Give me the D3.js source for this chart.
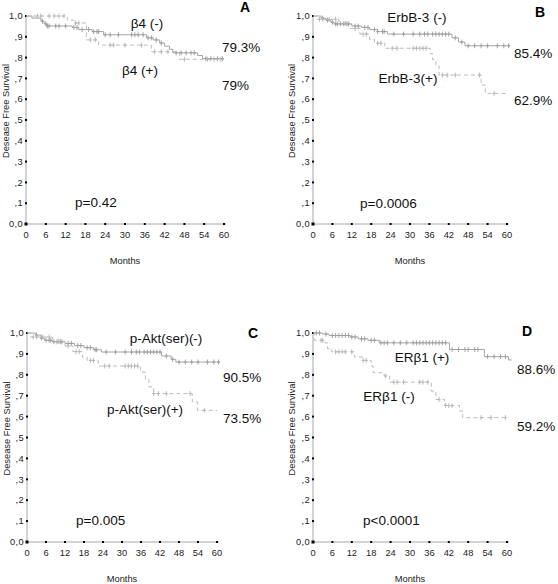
<!DOCTYPE html>
<html><head><meta charset="utf-8">
<script src="https://cdn.jsdelivr.net/npm/d3@7"></script>
<style>
body{margin:0;background:#fff;}
svg{display:block;font-family:"Liberation Sans",Arial,sans-serif;}
</style></head>
<body>
<svg id="c" width="558" height="584"></svg>
<script>
// ---- data ----
const monthTicks = [0,6,12,18,24,30,36,42,48,54,60];
const survTicks = [0,0.1,0.2,0.3,0.4,0.5,0.6,0.7,0.8,0.9,1.0];
const survTickLabels = ["0,0",",1",",2",",3",",4",",5",",6",",7",",8",",9","1,0"];

// Panel A
const aNegSteps = [[1.8,.99],[4.5,.975],[5.5,.962],[6.2,.952],[14,.945],[16,.935],[20,.925],[23.5,.91],[36.5,.895],[38.5,.885],[40.5,.87],[42,.855],[43.5,.84],[44.5,.823],[52,.81],[53.5,.795]];
const aNegCens = [5,6,6.5,7,9,10,12,14.5,15.5,17,19,20.5,21.5,22,24,25.5,28,32,33,34,35.5,37,38,39.5,41,45.5,47,48.5,50,51,54.5,56,58,59.5];
const aNegEnd = 60;
const aPosSteps = [[12.5,.98],[14.5,.966],[18.3,.885],[22,.86],[38,.828],[46.5,.792]];
const aPosCens = [3.5,4.5,7,8.5,10,11.5,15,16,19.5,21,25.5,26.5,30,35,39,41,43,48,55,57,59];
const aPosEnd = 60;

// Panel B
const bNegSteps = [[2.5,.99],[4,.98],[5.5,.97],[6.5,.962],[12,.952],[15,.945],[17.5,.935],[20,.925],[23,.913],[43,.895],[45,.875],[47,.857]];
const bNegCens = [3,4.5,6,7,7.5,8.5,9.5,10.5,11,13,14,16,17,19,20,21.5,22,25,28,31,33,34.5,35.5,37,38,39,40,41,42,44,46,48,50,52,54,57,59,60.5];
const bNegEnd = 61;
const bPosSteps = [[1,.984],[8,.965],[11.5,.94],[14.5,.913],[17.5,.888],[19,.869],[22.2,.845],[36.2,.82],[37,.79],[38,.76],[39,.716],[52,.668],[53.3,.628]];
const bPosCens = [2,3,5,7,10,13,15.5,16.5,20,21,24.5,26,31,32,33,34,35,40,41.5,44,51.5,56];
const bPosEnd = 60;

// Panel C
const cNegSteps = [[2.6,.99],[4.5,.975],[5.5,.965],[8,.958],[12,.95],[15,.94],[18,.93],[21,.92],[23.5,.909],[42.5,.89],[45.5,.874],[47,.861]];
const cNegCens = [3,4.5,6,7,7.5,8.5,9.5,10.5,11,13,14,16,17,19,20,21.5,22,25,28,31,33,34.5,35.5,37,38,39,40,41,42,44,46,48,50,52,54,57,59,60.5];
const cNegEnd = 61;
const cPosSteps = [[1,.981],[8,.96],[12,.938],[14.5,.911],[17.5,.885],[19,.869],[22.5,.842],[35.8,.813],[37.4,.778],[38.5,.742],[40,.71],[52.2,.671],[53.8,.63]];
const cPosCens = [2,3,5,7,10,13,15.5,16.5,20,21,24.5,26,31,32,33,34,35,40,41.5,44,51.5,56];
const cPosEnd = 60;

// Panel D
const dPosSteps = [[3,.995],[5,.988],[11.5,.981],[14,.972],[17,.965],[20.5,.953],[42.2,.921],[53,.887],[60.5,.871]];
const dPosCens = [1,2,4,6,7,8,9,10,11,12,13,15,16,18,19,21,22,23,25,27,29,31,32,33,34,35,36,37,38,39,40,41,43,45,47,48,50,51,54,56,58,59.5];
const dPosEnd = 61.5;
const dNegSteps = [[0.5,.965],[3.5,.953],[4.5,.925],[5.8,.91],[12.8,.885],[15.4,.869],[18,.842],[18.6,.81],[22,.794],[23.7,.765],[36.6,.722],[38,.682],[40.7,.653],[45.3,.627],[46.3,.595]];
const dNegCens = [2.5,3,7,8,9,10,12,15.5,16.5,22.5,25,26,28,33,34,35.5,39,41,42,43,52,55,59.5];
const dNegEnd = 60.5;

const panelLetters = ["A","B","C","D"];
const pValues = ["p=0.42","p=0.0006","p=0.005","p<0.0001"];

// ---- layout ----
const panels = [
  {letter:panelLetters[0], p:pValues[0], x0:26, x1:224, yT:16, yB:224, ylabX:6,
   curves:[{steps:aNegSteps,cens:aNegCens,end:aNegEnd,dash:false},{steps:aPosSteps,cens:aPosCens,end:aPosEnd,dash:true}],
   texts:[["β4 (-)",147,28,"middle"],["β4 (+)",140,75,"middle"],["79.3%",222,52,"start"],["79%",222,90,"start"]],
   letterPos:[245,12], pPos:[75,207]},
  {letter:panelLetters[1], p:pValues[1], x0:313, x1:507, yT:16, yB:224, ylabX:292,
   curves:[{steps:bNegSteps,cens:bNegCens,end:bNegEnd,dash:false},{steps:bPosSteps,cens:bPosCens,end:bPosEnd,dash:true}],
   texts:[["ErbB-3 (-)",417,22,"middle"],["ErbB-3(+)",408,83,"middle"],["85.4%",514,58,"start"],["62.9%",514,105,"start"]],
   letterPos:[540,17], pPos:[360,208]},
  {letter:panelLetters[2], p:pValues[2], x0:27, x1:217, yT:333, yB:542, ylabX:7,
   curves:[{steps:cNegSteps,cens:cNegCens,end:cNegEnd,dash:false},{steps:cPosSteps,cens:cPosCens,end:cPosEnd,dash:true}],
   texts:[["p-Akt(ser)(-)",166,343,"middle"],["p-Akt(ser)(+)",145,414,"middle"],["90.5%",223,382,"start"],["73.5%",223,423,"start"]],
   letterPos:[253,338], pPos:[76,525]},
  {letter:panelLetters[3], p:pValues[3], x0:313, x1:507, yT:333, yB:542, ylabX:292,
   curves:[{steps:dPosSteps,cens:dPosCens,end:dPosEnd,dash:false},{steps:dNegSteps,cens:dNegCens,end:dNegEnd,dash:true}],
   texts:[["ERβ1 (+)",422,362,"middle"],["ERβ1 (-)",389,401,"middle"],["88.6%",517,374,"start"],["59.2%",517,431,"start"]],
   letterPos:[527,336], pPos:[363,525]}
];

const svg = d3.select("#c");

function survAt(steps,t){let s=1;for(const st of steps){if(st[0]<=t) s=st[1];}return s;}

panels.forEach(P=>{
  const x = d3.scaleLinear().domain([0,60]).range([P.x0,P.x1]);
  const y = d3.scaleLinear().domain([0,1]).range([P.yB,P.yT]);
  const g = svg.append("g");

  // axes lines
  g.append("line").attr("x1",x(0)).attr("x2",x(60)+2).attr("y1",y(0)).attr("y2",y(0)).attr("stroke","#a8a8a8").attr("stroke-width",1);
  g.append("line").attr("x1",x(0)).attr("x2",x(0)).attr("y1",y(0)).attr("y2",y(1)).attr("stroke","#a8a8a8").attr("stroke-width",1);

  // ticks
  monthTicks.forEach(m=>{
    g.append("rect").attr("x",x(m)-1).attr("y",y(0)-1).attr("width",2).attr("height",2).attr("fill","#000");
    g.append("text").attr("x",x(m)).attr("y",y(0)+14).attr("text-anchor","middle").attr("font-size",9.3).attr("fill","#222").text(m);
  });
  survTicks.forEach((v,i)=>{
    g.append("rect").attr("x",x(0)-1).attr("y",y(v)-1).attr("width",2).attr("height",2).attr("fill","#000");
    g.append("text").attr("x",x(0)-3).attr("y",y(v)).attr("dy","0.35em").attr("text-anchor","end").attr("font-size",9.3).attr("letter-spacing",0.4).attr("fill","#222").text(survTickLabels[i]);
  });
  g.append("rect").attr("x",x(0)-1.5).attr("y",y(0)-1.5).attr("width",3).attr("height",3).attr("fill","#000");

  // axis titles
  g.append("text").attr("x",(P.x0+P.x1)/2).attr("y",P.yB+40).attr("text-anchor","middle").attr("font-size",9.3).attr("fill","#222").text("Months");
  const yc=(P.yT+P.yB)/2-9;
  g.append("text").attr("transform",`translate(${P.ylabX},${yc}) rotate(-90)`).attr("dy","0.35em").attr("text-anchor","middle").attr("font-size",9.3).attr("fill","#222").text("Desease Free Survival");

  // curves
  P.curves.forEach(C=>{
    const pts=[[0,1],...C.steps,[C.end,C.steps[C.steps.length-1][1]]];
    const line=d3.line().x(d=>x(d[0])).y(d=>y(d[1])).curve(d3.curveStepAfter);
    const col = C.dash ? "#b4b4b4" : "#9c9c9c";
    g.append("path").attr("d",line(pts)).attr("fill","none").attr("stroke",col).attr("stroke-width",0.9)
      .attr("stroke-dasharray",C.dash?"4,3":null);
    C.cens.forEach(t=>{
      const cx=x(t), cy=y(survAt(C.steps,t));
      g.append("line").attr("x1",cx).attr("x2",cx).attr("y1",cy-2.5).attr("y2",cy+2.5).attr("stroke",col).attr("stroke-width",0.9);
      g.append("line").attr("x1",cx-1.5).attr("x2",cx+1.5).attr("y1",cy).attr("y2",cy).attr("stroke",col).attr("stroke-width",0.9);
    });
  });

  // annotations
  P.texts.forEach(T=>{
    g.append("text").attr("x",T[1]).attr("y",T[2]).attr("text-anchor",T[3]).attr("font-size",13.5).attr("fill","#111").text(T[0]);
  });
  g.append("text").attr("x",P.pPos[0]).attr("y",P.pPos[1]).attr("font-size",13.5).attr("fill","#111").text(P.p);
  g.append("text").attr("x",P.letterPos[0]).attr("y",P.letterPos[1]).attr("text-anchor","middle").attr("font-size",14).attr("font-weight","bold").attr("fill","#000").text(P.letter);
});
</script>
</body></html>
